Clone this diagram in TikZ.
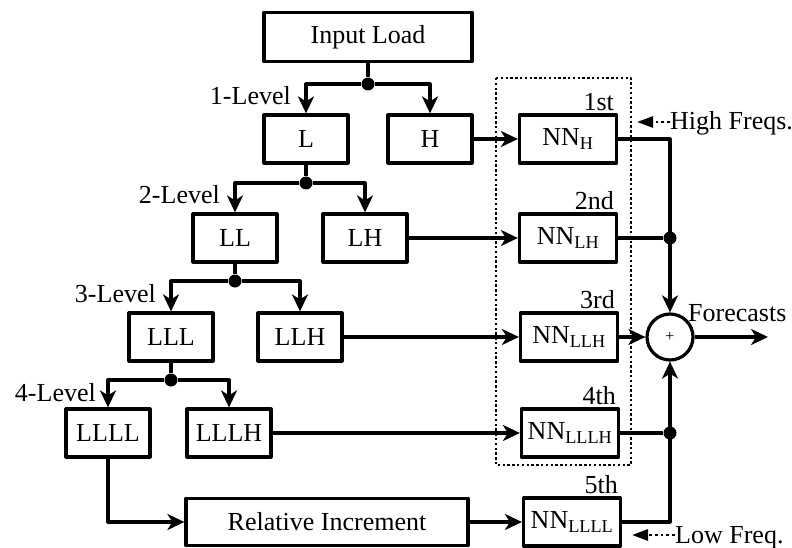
\documentclass[tikz,border=0pt]{standalone}
\usepackage{fontspec}
\setmainfont{Liberation Serif}
\usetikzlibrary{arrows.meta,positioning}

\newcommand{\nnsub}[1]{NN\textsubscript{#1}}

\begin{document}
\begin{tikzpicture}[x=1pt, y=-1pt, line join=round,
    every node/.style={font=\fontsize{26}{30}\selectfont},
    wire/.style={line width=3.2pt},
    flow/.style={wire, -{Stealth[length=17pt,width=16pt,inset=5pt]}},
    blk/.style={draw, line width=3.2pt, minimum width=84pt, minimum height=48pt, inner sep=0pt},
    nnbox/.style={blk, minimum width=97pt},
    dot/.style={circle, fill, inner sep=0pt, minimum size=13pt},
    lvl/.style={anchor=east, inner sep=0pt},
    ord/.style={anchor=south east, inner sep=0pt},
    hint/.style={line width=2.8pt, dash pattern=on 2.8pt off 3pt, -{Triangle[length=16pt,width=11pt]}}]
    \useasboundingbox (0,0) rectangle (792,548);

    % Decomposition tree
    \node[blk, minimum width=208pt, minimum height=49pt] (input) at (368,37) {Input Load};
    \node[blk] (L)    at (306,139) {L};
    \node[blk] (H)    at (430,139) {H};
    \node[blk] (LL)   at (235,238) {LL};
    \node[blk] (LH)   at (365,238) {LH};
    \node[blk] (LLL)  at (171,337) {LLL};
    \node[blk] (LLH)  at (300,337) {LLH};
    \node[blk] (LLLL) at (108,433) {LLLL};
    \node[blk] (LLLH) at (229,433) {LLLH};
    \node[blk, minimum width=282pt, minimum height=47pt] (relinc) at (327,522) {Relative Increment};

    % Split points
    \node[dot] (j1) at (368,84) {};
    \node[dot] (j2) at (306,183) {};
    \node[dot] (j3) at (235,281) {};
    \node[dot] (j4) at (171,380) {};

    \draw[wire] (input) -- (j1);
    \draw[flow] (j1) -| (L);
    \draw[flow] (j1) -| (H);
    \draw[wire] (L) -- (j2);
    \draw[flow] (j2) -| (LL);
    \draw[flow] (j2) -| (LH);
    \draw[wire] (LL) -- (j3);
    \draw[flow] (j3) -| (LLL);
    \draw[flow] (j3) -| (LLH);
    \draw[wire] (LLL) -- (j4);
    \draw[flow] (j4) -| (LLLL);
    \draw[flow] (j4) -| (LLLH);
    \draw[flow] (LLLL) |- (relinc);

    % Level labels
    \node[lvl] (lv1) at (291,96)  {1-Level};
    \node[lvl] (lv2) at (220,195) {2-Level};
    \node[lvl] (lv3) at (156,294) {3-Level};
    \node[lvl] (lv4) at (96,393)  {4-Level};

    % Networks
    \draw[line width=2.4pt, dash pattern=on 2.4pt off 2.4pt] (496,78) rectangle (631,465);
    \node[nnbox] (nnH)    at (568,139) {\nnsub{H}};
    \node[nnbox] (nnLH)   at (568,238) {\nnsub{LH}};
    \node[nnbox] (nnLLH)  at (569,337) {\nnsub{LLH}};
    \node[nnbox] (nnLLLH) at (570,433) {\nnsub{LLLH}};
    \node[nnbox] (nnLLLL) at (572,522) {\nnsub{LLLL}};

    \node[ord] (o1) at ([xshift=-4pt,yshift=2pt]nnH.north east)    {1st};
    \node[ord] (o2) at ([xshift=-4pt,yshift=2pt]nnLH.north east)   {2nd};
    \node[ord] (o3) at ([xshift=-4pt,yshift=2pt]nnLLH.north east)  {3rd};
    \node[ord] (o4) at ([xshift=-4pt,yshift=2pt]nnLLLH.north east) {4th};
    \node[ord] (o5) at ([xshift=-4pt,yshift=2pt]nnLLLL.north east) {5th};

    \draw[flow] (H) -- (nnH);
    \draw[flow] (LH) -- (nnLH);
    \draw[flow] (LLH) -- (nnLLH);
    \draw[flow] (LLLH) -- (nnLLLH);
    \draw[flow] (relinc) -- (nnLLLL);

    % Summation
    \node[circle, draw, line width=3.2pt, minimum size=46pt, inner sep=0pt,
          font=\fontsize{16}{16}\selectfont] (sum) at (670,337) {+};
    \node[dot] (d2) at (670,238) {};
    \node[dot] (d4) at (670,433) {};
    \draw[flow] (nnH) -| (sum);
    \draw[wire] (nnLH) -- (d2);
    \draw[wire] (nnLLLH) -- (d4);
    \draw[flow] (nnLLLL) -| (sum);
    \draw[flow] (nnLLH) -- (sum);

    \coordinate (out) at (768,337);
    \draw[flow] (sum) -- (out);
    \node[anchor=base west, inner sep=0pt] (fc) at (688,321) {Forecasts};

    % Frequency hints
    \node[anchor=base west, inner sep=0pt] (hf) at (670,130) {High Freqs.};
    \node[anchor=base west, inner sep=0pt] (lf) at (675,543) {Low Freq.};
    \coordinate (hftip) at (637,122);
    \coordinate (lftip) at (632,535);
    \draw[hint] (hf.west |- hftip) -- (hftip);
    \draw[hint] (lf.west |- lftip) -- (lftip);
\end{tikzpicture}
\end{document}
